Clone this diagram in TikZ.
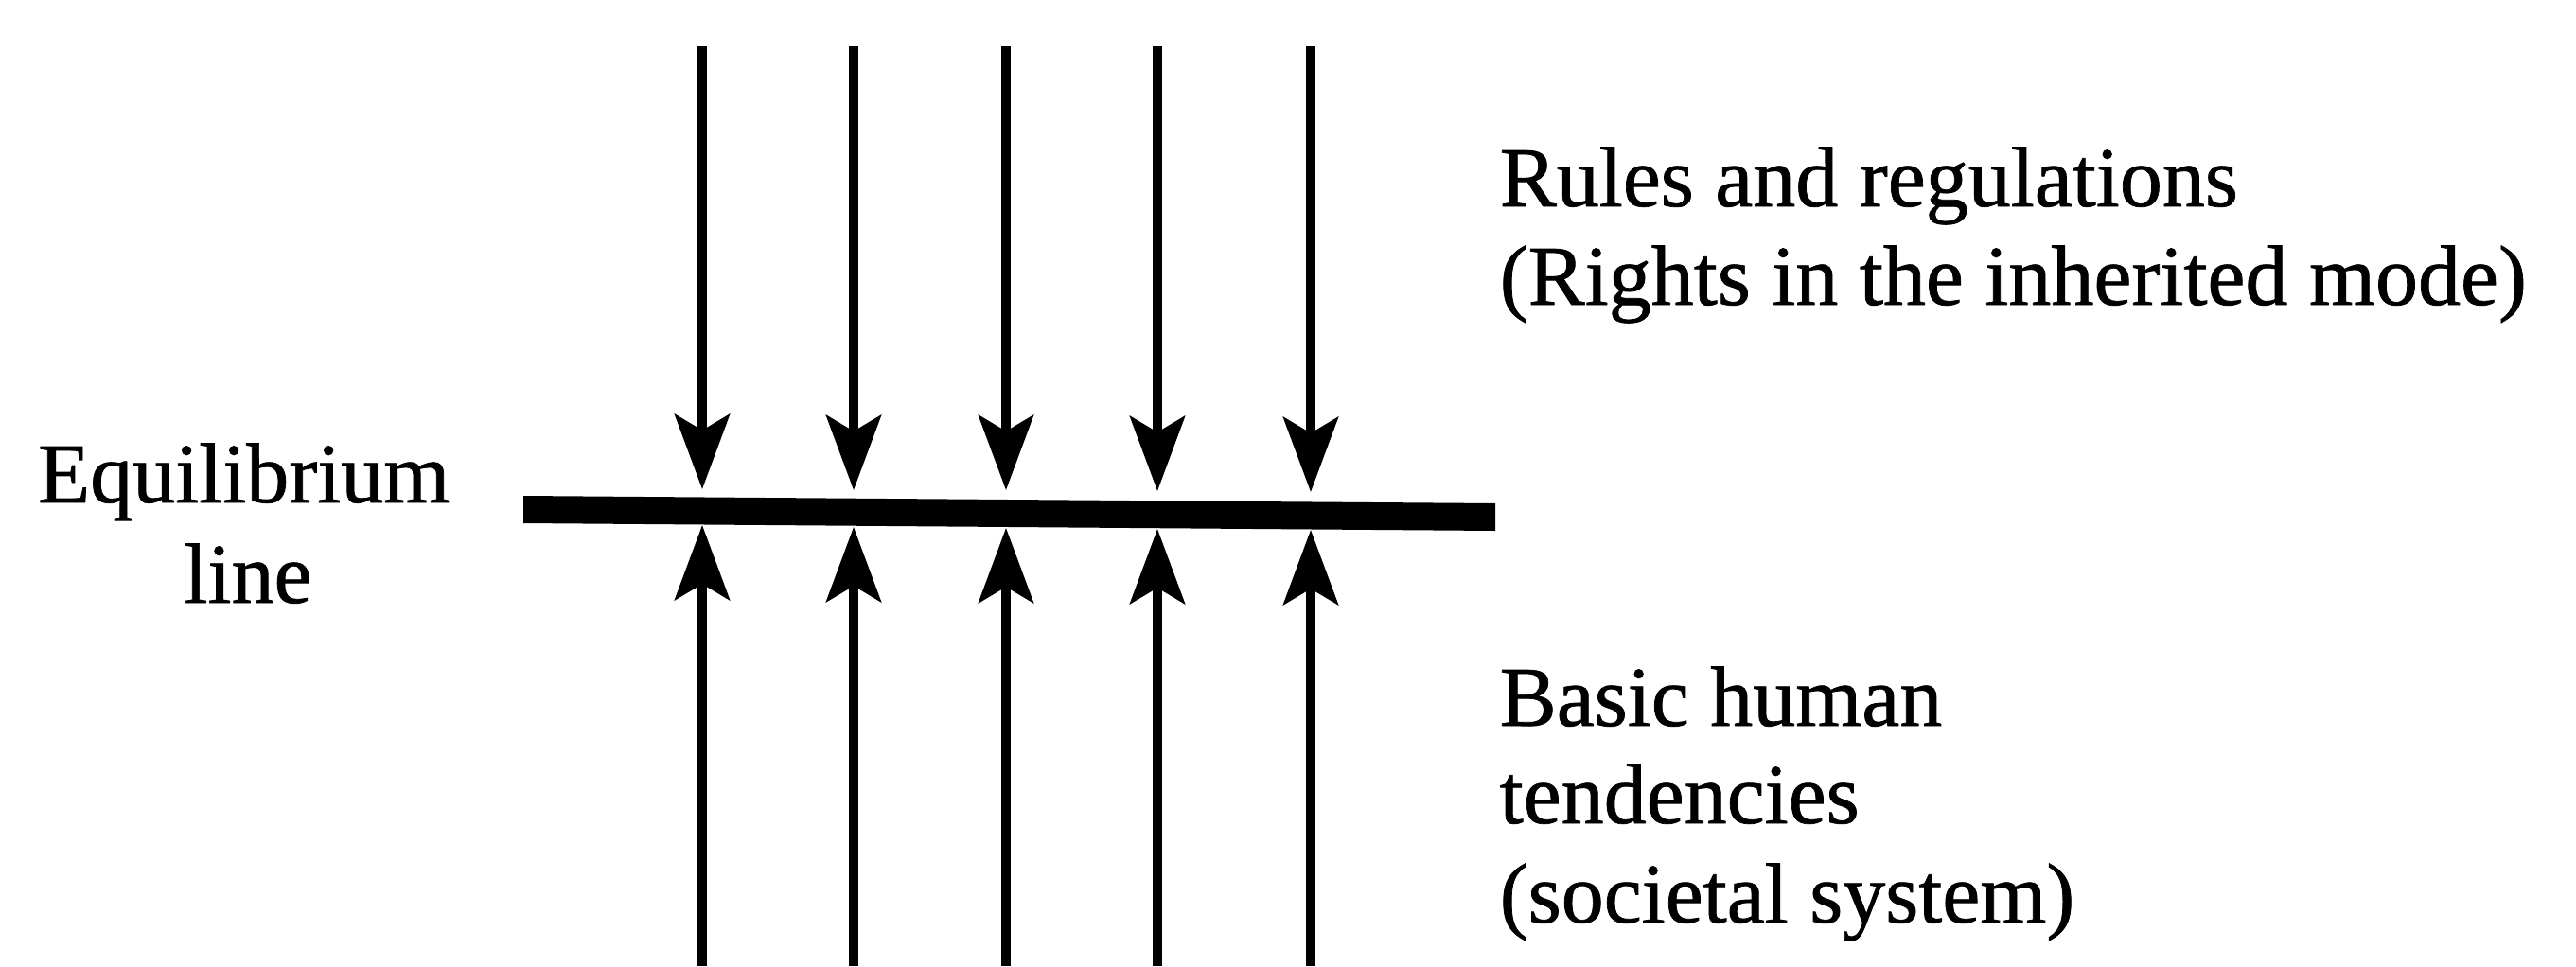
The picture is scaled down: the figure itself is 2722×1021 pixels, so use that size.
\documentclass[tikz,border=0pt]{standalone}
\usepackage{fontspec}
\setmainfont{Liberation Serif}
\newfontfamily\lblfont[FakeBold=0.8]{Liberation Serif}
\usetikzlibrary{arrows.meta}
\tikzset{
  force/.style={line width=2.6pt,
    -{Stealth[length=22.5pt,width=16.5pt,inset=4.8pt]}},
  lbl/.style={inner sep=0pt,font=\fontsize{25.6}{30}\lblfont},
}
\begin{document}
\begin{tikzpicture}[x=0.01cm,y=-0.01cm]
\path[use as bounding box] (0,0) rectangle (2722,1021);
% equilibrium line
\fill (553,524) -- (1580,532) -- (1580,561) -- (553,553) -- cycle;
% arrows
\foreach \i/\x/\ta/\tb in {1/742/517/555, 2/902/518/557, 3/1063/518/558, 4/1223/519/559, 5/1385/520/560}{
  \coordinate (top\i) at (\x,49);
  \coordinate (tipA\i) at (\x,\ta);
  \coordinate (bot\i) at (\x,1021);
  \coordinate (tipB\i) at (\x,\tb);
  \draw[force] (top\i) -- (tipA\i);
  \draw[force] (bot\i) -- (tipB\i);
}
% labels
\node[lbl,anchor=base west] (rules1) at (1584,218) {Rules and regulations};
\node[lbl,anchor=base west] (rules2) at (1584,322) {(Rights in the inherited mode)};
\node[lbl,anchor=base east] (eq1) at (476,531) {Equilibrium};
\node[lbl,anchor=base] (eq2) at (262,637) {line};
\node[lbl,anchor=base west] (bh1) at (1584,767) {Basic human};
\node[lbl,anchor=base west] (bh2) at (1584,870) {tendencies};
\node[lbl,anchor=base west] (bh3) at (1584,975) {(societal system)};
\end{tikzpicture}
\end{document}
